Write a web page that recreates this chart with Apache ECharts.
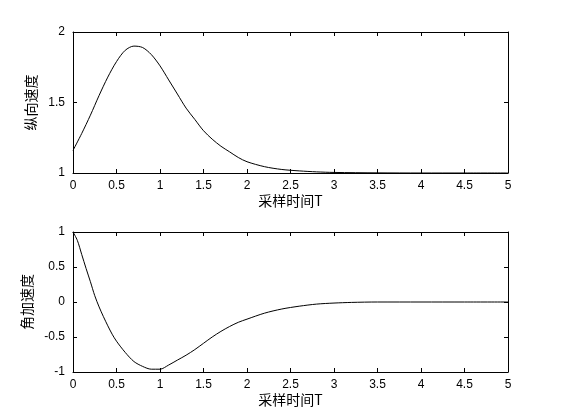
<!DOCTYPE html>
<html>
<head>
<meta charset="utf-8">
<script src="https://cdn.jsdelivr.net/npm/echarts@6/dist/echarts.min.js"></script>
<style>
  html, body { margin: 0; padding: 0; background: #fff; }
  #chart { width: 561px; height: 420px; }
</style>
</head>
<body>
<div id="chart"></div>
<script>
// 采样时间 T (x values) and the two measured curves
const tTop = [0, 0.1, 0.2, 0.3, 0.4, 0.5, 0.6, 0.7, 0.8, 0.9, 1.0, 1.1, 1.2, 1.3, 1.4, 1.5,
  1.6, 1.7, 1.8, 1.9, 2.0, 2.2, 2.4, 2.6, 2.8, 3.0, 3.5, 4.0, 4.5, 5.0];
const speedTop = [1.16, 1.28, 1.41, 1.55, 1.68, 1.79, 1.87, 1.9, 1.89, 1.84, 1.76, 1.66, 1.56, 1.46,
  1.38, 1.30, 1.24, 1.19, 1.15, 1.11, 1.08, 1.045, 1.025, 1.015, 1.008, 1.004, 1.001, 1.0, 1.0, 1.0];

const tBottom = [0, 0.05, 0.1, 0.15, 0.2, 0.25, 0.3, 0.35, 0.4, 0.45, 0.5, 0.6, 0.7, 0.8, 0.9, 1.0,
  1.1, 1.2, 1.3, 1.4, 1.5, 1.6, 1.7, 1.8, 1.9, 2.0, 2.2, 2.4, 2.6, 2.8, 3.0, 3.2, 3.5, 4.0, 4.5, 5.0];
const accelBottom = [1.0, 0.88, 0.68, 0.48, 0.29, 0.09, -0.07, -0.21, -0.34, -0.46, -0.56, -0.72,
  -0.85, -0.92, -0.96, -0.96, -0.9, -0.83, -0.76, -0.68, -0.59, -0.5, -0.42, -0.35, -0.29, -0.245,
  -0.16, -0.1, -0.06, -0.03, -0.015, -0.006, 0, 0, 0, 0];

const xLabel = "采样时间T";
const yLabelTop = "纵向速度";
const yLabelBottom = "角加速度";

const font = "'Liberation Sans', Arial, sans-serif";
const cjkFont = "'Noto Sans CJK SC', sans-serif";

function pairs(xs, ys) {
  return xs.map((x, i) => [x, ys[i]]);
}

function xAxisFor(gridIndex, position, showLabels) {
  return {
    type: "value",
    gridIndex: gridIndex,
    position: position,
    min: 0,
    max: 5,
    interval: 0.5,
    name: showLabels ? xLabel : "",
    nameLocation: "middle",
    nameGap: 21,
    nameTextStyle: { color: "#000", fontSize: 14, fontFamily: cjkFont },
    axisLine: { show: true, onZero: false, lineStyle: { color: "#000", width: 1 } },
    axisTick: { show: true, inside: true, length: 4, lineStyle: { color: "#000" } },
    axisLabel: { show: showLabels, color: "#000", fontSize: 12, fontFamily: font, margin: 7 },
    splitLine: { show: false },
  };
}

function yAxisFor(gridIndex, position, min, max, interval, name) {
  const showLabels = position === "left";
  return {
    type: "value",
    gridIndex: gridIndex,
    position: position,
    min: min,
    max: max,
    interval: interval,
    name: showLabels ? name : "",
    nameLocation: "middle",
    nameGap: 30,
    nameTextStyle: { color: "#000", fontSize: 14, fontFamily: cjkFont },
    axisLine: { show: true, onZero: false, lineStyle: { color: "#000", width: 1 } },
    axisTick: { show: true, inside: true, length: 4, lineStyle: { color: "#000" } },
    axisLabel: { show: showLabels, color: "#000", fontSize: 12, fontFamily: font, margin: 8 },
    splitLine: { show: false },
  };
}

const chart = echarts.init(document.getElementById("chart"), null, { renderer: "canvas" });

const option = {
  backgroundColor: "#fff",
  animation: false,
  grid: [
    { left: 73, right: 53, top: 32, height: 141 },
    { left: 73, right: 53, top: 232, height: 140 },
  ],
  xAxis: [
    xAxisFor(0, "bottom", true),
    xAxisFor(0, "top", false),
    xAxisFor(1, "bottom", true),
    xAxisFor(1, "top", false),
  ],
  yAxis: [
    yAxisFor(0, "left", 1, 2, 0.5, yLabelTop),
    yAxisFor(0, "right", 1, 2, 0.5, ""),
    yAxisFor(1, "left", -1, 1, 0.5, yLabelBottom),
    yAxisFor(1, "right", -1, 1, 0.5, ""),
  ],
  series: [
    {
      type: "line",
      xAxisIndex: 0,
      yAxisIndex: 0,
      data: pairs(tTop, speedTop),
      smooth: 0.3,
      showSymbol: false,
      lineStyle: { color: "#000", width: 1 },
    },
    {
      type: "line",
      xAxisIndex: 2,
      yAxisIndex: 2,
      data: pairs(tBottom, accelBottom),
      smooth: 0.3,
      showSymbol: false,
      lineStyle: { color: "#000", width: 1 },
    },
  ],
};

chart.setOption(option);
</script>
</body>
</html>
